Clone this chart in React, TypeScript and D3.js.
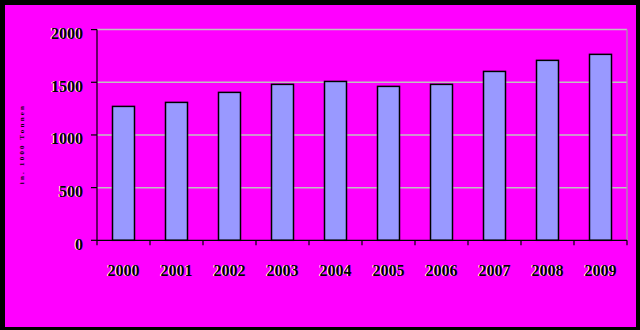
import React from "react";
import * as d3 from "d3";

const years = ["2000", "2001", "2002", "2003", "2004", "2005", "2006", "2007", "2008", "2009"];
const values = [1271, 1309, 1404, 1480, 1508, 1461, 1480, 1603, 1708, 1765];
const yTicks = [0, 500, 1000, 1500, 2000];
const yTitle = "in. 1000 Tonnen";

const W = 640;
const H = 330;
const left = 97;
const right = 627;
const top = 29.6;
const bottom = 240.3;

export default function App() {
  React.useEffect(() => {
    document.body.style.margin = "0";
  }, []);
  const x = d3.scaleBand<string>().domain(years).range([left, right]).paddingInner(0).paddingOuter(0);
  const y = d3.scaleLinear().domain([0, 2000]).range([bottom, top]);
  const bw = x.bandwidth() * 0.415;
  const font = "'Liberation Serif', 'Times New Roman', serif";
  const label = (key: string, tx: number, ty: number, anchor: string, text: string) => (
    <g key={key}>
      <text x={tx - 1} y={ty} textAnchor={anchor} fontFamily={font} fontWeight="bold" fontSize={16} fill="#ffffff">{text}</text>
      <text x={tx} y={ty} textAnchor={anchor} fontFamily={font} fontWeight="bold" fontSize={16} fill="#000000">{text}</text>
    </g>
  );
  return (
    <div style={{ position: "fixed", left: 0, top: 0 }}>
      <svg width={W} height={H} style={{ display: "block" }}>
        <rect x={0} y={0} width={W} height={H} fill="#000000" />
        <rect x={5} y={5} width={631} height={322} fill="#ff00ff" />
        {yTicks.filter((t) => t > 0).map((t) => (
          <line key={"g" + t} x1={left} x2={right} y1={y(t)} y2={y(t)} stroke="#c0c0c0" strokeWidth={1.5} />
        ))}
        <line x1={right} x2={right} y1={top} y2={bottom} stroke="#a0a0a0" strokeWidth={1.2} />
        {years.map((yr, i) => {
          const cx = (x(yr) as number) + x.bandwidth() / 2;
          return (
            <rect key={"b" + yr} x={cx - bw / 2} y={y(values[i])} width={bw} height={bottom - y(values[i])}
              fill="#9999ff" stroke="#000000" strokeWidth={1.5} />
          );
        })}
        <line x1={left} x2={left} y1={top} y2={bottom} stroke="#000" strokeWidth={1.2} />
        <line x1={left} x2={right} y1={bottom} y2={bottom} stroke="#000" strokeWidth={1.2} />
        {yTicks.map((t) => (
          <line key={"yt" + t} x1={left - 6} x2={left} y1={y(t)} y2={y(t)} stroke="#000" strokeWidth={1.2} />
        ))}
        {years.concat(["end"]).map((yr, i) => {
          const tx = left + i * x.step();
          return <line key={"xt" + i} x1={tx} x2={tx} y1={bottom} y2={bottom + 5} stroke="#000" strokeWidth={1.2} />;
        })}
        {yTicks.map((t) => label("yl" + t, 83, y(t) + 9.5, "end", String(t)))}
        {years.map((yr) => label("xl" + yr, (x(yr) as number) + x.bandwidth() / 2, 276, "middle", yr))}
        <text transform={`translate(24,144) rotate(-90)`} textAnchor="middle" fontFamily={font} fontWeight="bold"
          fontSize={7} letterSpacing={2.2} fill="#000">{yTitle}</text>
      </svg>
    </div>
  );
}
